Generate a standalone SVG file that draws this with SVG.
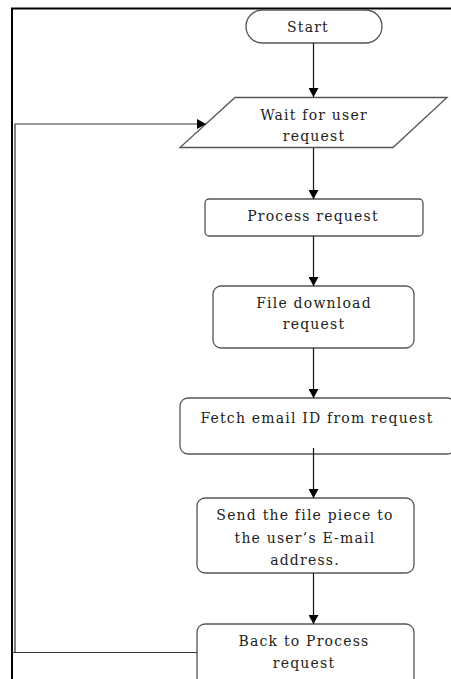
<svg xmlns="http://www.w3.org/2000/svg" width="451" height="679" viewBox="0 0 451 679">
<style>
.node{fill:#fff;stroke:#555;stroke-width:1.3}
.t{font-family:"DejaVu Serif","Liberation Serif",serif;font-size:14px;letter-spacing:1.2px;fill:#222;text-anchor:middle}
.c{fill:none;stroke:#111;stroke-width:1.2}
.frame{fill:none;stroke:#000;stroke-width:2}
</style>
<defs>
<marker id="ah" markerWidth="10" markerHeight="10" refX="9" refY="5" orient="auto" markerUnits="userSpaceOnUse">
<path d="M0,0 L9,5 L0,10 z" fill="#000"/>
</marker>
</defs>
<path class="frame" d="M12,679 V8.5 H451"/>
<g id="start"><rect class="node" x="246" y="10" width="136" height="33" rx="16.5"/><text class="t" x="308" y="32">Start</text></g>
<g id="wait"><polygon class="node" points="235,97.5 447,97.5 393,147.5 180,147.5"/><text class="t" x="314" y="120">Wait for user</text><text class="t" x="314" y="141">request</text></g>
<g id="process"><rect class="node" x="205" y="199" width="218" height="37" rx="4"/><text class="t" x="313" y="221">Process request</text></g>
<g id="download"><rect class="node" x="213" y="286" width="201" height="62" rx="8"/><text class="t" x="314" y="308">File download</text><text class="t" x="314" y="329">request</text></g>
<g id="fetch"><rect class="node" x="180" y="398" width="275" height="56" rx="8"/><text class="t" x="317" y="423">Fetch email ID from request</text></g>
<g id="send"><rect class="node" x="197" y="498" width="217" height="75" rx="8"/><text class="t" x="305" y="520">Send the file piece to</text><text class="t" x="305" y="543">the user’s E-mail</text><text class="t" x="305" y="565">address.</text></g>
<g id="back"><rect class="node" x="197" y="624" width="217" height="70" rx="8"/><text class="t" x="304" y="646">Back to Process</text><text class="t" x="304" y="668">request</text></g>
<g id="connectors">
<line class="c" x1="313.5" y1="43" x2="313.5" y2="97" marker-end="url(#ah)"/>
<line class="c" x1="313.5" y1="148" x2="313.5" y2="199" marker-end="url(#ah)"/>
<line class="c" x1="313.5" y1="236" x2="313.5" y2="286" marker-end="url(#ah)"/>
<line class="c" x1="313.5" y1="348" x2="313.5" y2="398" marker-end="url(#ah)"/>
<line class="c" x1="313.5" y1="448" x2="313.5" y2="498" marker-end="url(#ah)"/>
<line class="c" x1="313.5" y1="573" x2="313.5" y2="624" marker-end="url(#ah)"/>
<path class="c" d="M197,652.5 H13 M15,652.5 V124 H206" marker-end="url(#ah)" style="stroke:#333"/>
</g>
</svg>
